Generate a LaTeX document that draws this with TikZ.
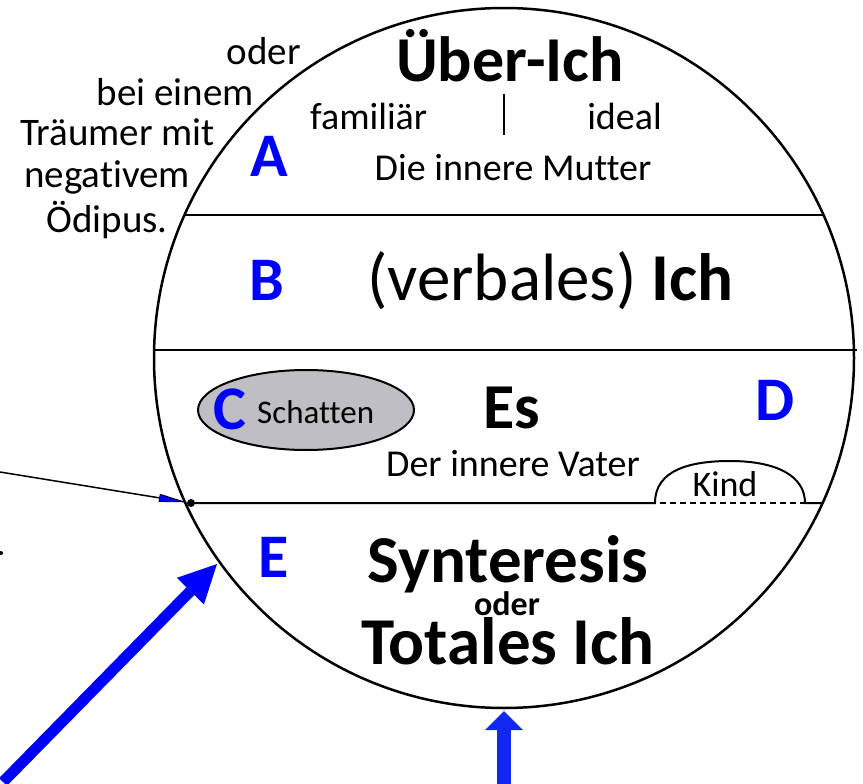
\documentclass[tikz,border=0pt]{standalone}
\usepackage{fontspec}
\setmainfont{Carlito}[Ligatures=NoCommon]
\usetikzlibrary{arrows.meta}
\definecolor{lblue}{RGB}{0,0,255}
\definecolor{abl}{RGB}{16,40,240}
\definecolor{shade}{RGB}{190,190,196}
\begin{document}
\begin{tikzpicture}[x=1pt,y=-1pt,
  txt/.style={inner sep=0pt, font=\fontsize{38}{42}\selectfont},
  side/.style={inner sep=0pt, font=\fontsize{39}{42}\selectfont},
  small/.style={inner sep=0pt, font=\fontsize{33}{36}\selectfont},
  big/.style={inner sep=0pt, font=\fontsize{67}{72}\selectfont\bfseries},
  letter/.style={inner sep=0pt, text=lblue, font=\fontsize{62}{70}\selectfont\bfseries},
  sep/.style={line width=2pt}]
\useasboundingbox (0,0) rectangle (863,784);

% main circle
\node[circle, draw, line width=2.5pt, minimum size=700pt, inner sep=0pt] (ball) at (504,358) {};

% separating lines
\draw[sep] (184.5,215) -- (823.5,215);
\draw[sep] (155,350) -- (857,350);
\node[circle, fill, inner sep=0pt, minimum size=8pt] (dot) at (191,503) {};
\draw[sep] (dot.center) -- (655,503)
  .. controls (655,470) and (690,461) .. (730,461)
  .. controls (775,461) and (805,475) .. (805,503) -- (822.5,503);
\draw[line width=1.5pt, dash pattern=on 6pt off 4pt] (660,503) -- (805,503);

% shadow ellipse
\draw[line width=2pt, fill=shade] (306,410) ellipse [x radius=108, y radius=40];

% texts in top region
\node[big, anchor=base, font=\fontsize{64}{70}\selectfont\bfseries] (ueber) at (510,82) {Über-Ich};
\node[txt, anchor=base west] (fam) at (310,129) {familiär};
\node[txt, anchor=base east] (ideal) at (662,129) {ideal};
\draw[line width=2pt] (504,94) -- (504,135);
\node[txt, anchor=base] (mutter) at (513,180) {Die innere Mutter};
\node[letter, anchor=base west] (A) at (250,176) {A};

% left side text
\node[side, anchor=base east] (l1) at (301,65) {oder};
\node[side, anchor=base east] (l2) at (254,106) {bei einem};
\node[side, anchor=base east] (l3) at (215,146) {Träumer mit};
\node[side, anchor=base east] (l4) at (190,187) {negativem};
\node[side, anchor=base east] (l5) at (168,232) {Ödipus.};

% B region
\node[letter, anchor=base west] (B) at (249,300) {B};
\node[inner sep=0pt, anchor=base west, font=\fontsize{67}{72}\selectfont] (ich) at (367,300) {(verbales) \textbf{Ich}};

% C / D region
\node[letter, anchor=base west] (C) at (213,429) {C};
\node[small, anchor=base west] (schatten) at (257,423) {Schatten};
\node[big, anchor=base, font=\fontsize{64}{70}\selectfont\bfseries] (es) at (512,428) {Es};
\node[txt, anchor=base] (vater) at (513,476) {Der innere Vater};
\node[letter, anchor=base west] (D) at (755,420) {D};
\node[inner sep=0pt, font=\fontsize{36}{40}\selectfont, anchor=base] (kind) at (725,496) {Kind};

% E region
\node[letter, anchor=base west] (E) at (258,577) {E};
\node[big, anchor=base] (syn) at (508,582) {Synteresis};
\node[inner sep=0pt, anchor=base, font=\fontsize{34}{36}\selectfont\bfseries] (oder) at (507,615) {oder};
\node[big, anchor=base] (tot) at (508,664) {Totales Ich};

% arrows
\coordinate (s1) at (0,472);
\draw[line width=1.5pt, -{Triangle[length=28pt,width=8pt,fill=lblue,line width=0.8pt]}] (s1) -- (dot);
\node[circle, fill, inner sep=0pt, minimum size=4pt] (spot) at (1,553) {};
\coordinate (s2) at (3,782);
\coordinate (t2) at (217,564);
\draw[lblue, line width=11pt, -{Triangle[length=38pt,width=38pt,line width=0pt]}] (s2) -- (t2);
\coordinate (s3) at (504,784);
\coordinate (t3) at (504,711);
\draw[abl, line width=14pt, -{Triangle[length=19pt,width=38pt,line width=0pt]}] (s3) -- (t3);
\end{tikzpicture}
\end{document}
